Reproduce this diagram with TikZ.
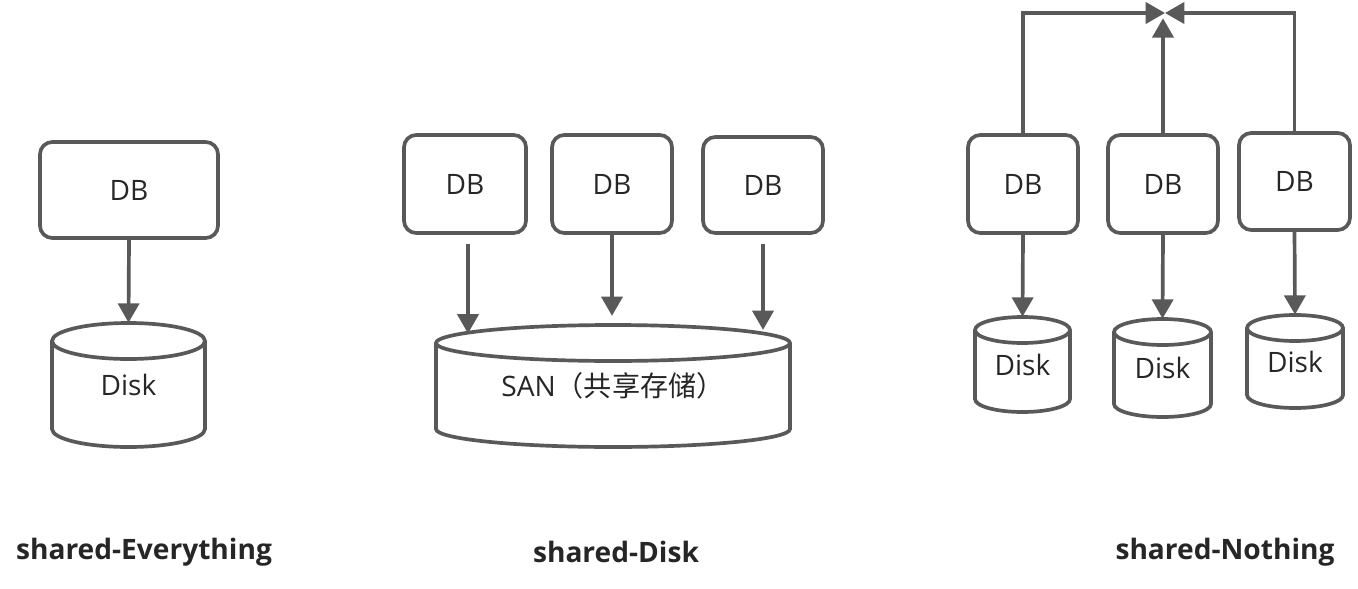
\documentclass[tikz,border=0pt]{standalone}
\usepackage{fontspec}
\usepackage{xcolor}
\usetikzlibrary{arrows.meta,positioning,calc}
\setmainfont{Open Sans}
\newfontfamily\cjk{Noto Sans CJK SC}
\definecolor{line2}{HTML}{595959}
\definecolor{text2}{HTML}{262626}

% cylinder: name, cx, cy, rx, half height, ry, label
\newcommand{\drum}[7]{%
  \node[disktext, minimum width={2*#4*0.02cm}, minimum height={2*#5*0.02cm}] (#1) at (#2,#3) {#7};
  \draw[line] (#2-#4,#3-#5+#6) -- (#2-#4,#3+#5-#6)
     arc[start angle=180, end angle=0, x radius=#4, y radius=#6] -- (#2+#4,#3-#5+#6);
  \draw[line] (#2,#3-#5+#6) ellipse[x radius=#4, y radius=#6];
}

\begin{document}
\begin{tikzpicture}[
        x=0.02cm, y=-0.02cm,
        line/.style={draw=line2, line width=2.1pt},
        dbbox/.style={line, rounded corners=7pt, text=text2, inner sep=0pt,
                      font=\fontsize{16}{19}\selectfont},
        disktext/.style={inner sep=0pt, text=text2, font=\fontsize{16}{19}\selectfont},
        arr/.style={line, -{Triangle[length=11pt,width=12pt]}},
        lbl/.style={text=text2, font=\fontsize{16}{19}\selectfont\bfseries}
    ]
      \useasboundingbox (0,0) rectangle (1358,588);

      % shared-Everything
      \node[dbbox, minimum width=178*0.02cm, minimum height=96*0.02cm] (db) at (129,190) {DB};
      \drum{disk}{128.5}{385}{76.5}{62}{18}{Disk}
      \draw[arr] (db.south) -- (disk.north);
      \node[lbl] (se) at (144,552) {shared-Everything};

      % shared-Disk
      \node[dbbox, minimum width=122*0.02cm, minimum height=98*0.02cm] (m1) at (465,184) {DB};
      \node[dbbox, minimum width=120*0.02cm, minimum height=98*0.02cm] (m2) at (612,184) {DB};
      \node[dbbox, minimum width=120*0.02cm, minimum height=96*0.02cm] (m3) at (763,185) {DB};
      \drum{san}{613}{386}{177}{61}{18}{SAN\cjk（共享存储）}
      \draw[arr, shorten <=5pt, shorten >=-2pt] (m1.south -| 468,0) -- (468,330);
      \draw[arr, shorten >=5pt] (m2.south) -- (m2.south |- san.north);
      \draw[arr, shorten <=5pt, shorten >=-3pt] (m3.south) -- (m3.south |- san.north);
      \node[lbl] (sd) at (616,552) {shared-Disk};

      % shared-Nothing
      \node[dbbox, minimum width=110*0.02cm, minimum height=98*0.02cm] (r1) at (1023,184) {DB};
      \node[dbbox, minimum width=110*0.02cm, minimum height=98*0.02cm] (r2) at (1163,184) {DB};
      \node[dbbox, minimum width=111*0.02cm, minimum height=97*0.02cm] (r3) at (1294.5,181.5) {DB};
      \drum{d1}{1022.5}{364.5}{47.5}{47.5}{13}{Disk}
      \drum{d2}{1162.5}{368}{48.5}{49}{13}{Disk}
      \drum{d3}{1295}{361.5}{48}{46.5}{13}{Disk}
      \draw[arr] (r1.south) -- (d1.north);
      \draw[arr] (r2.south) -- (d2.north);
      \draw[arr] (r3.south) -- (d3.north);
      \coordinate (hub) at (1165,13);
      \draw[arr] (r1.north) |- (hub);
      \draw[arr, shorten >=3pt] (r2.north) -- (r2.north |- hub);
      \draw[arr] (r3.north) |- (hub);
      \node[lbl] (sn) at (1225,552) {shared-Nothing};
    \end{tikzpicture}
\end{document}
